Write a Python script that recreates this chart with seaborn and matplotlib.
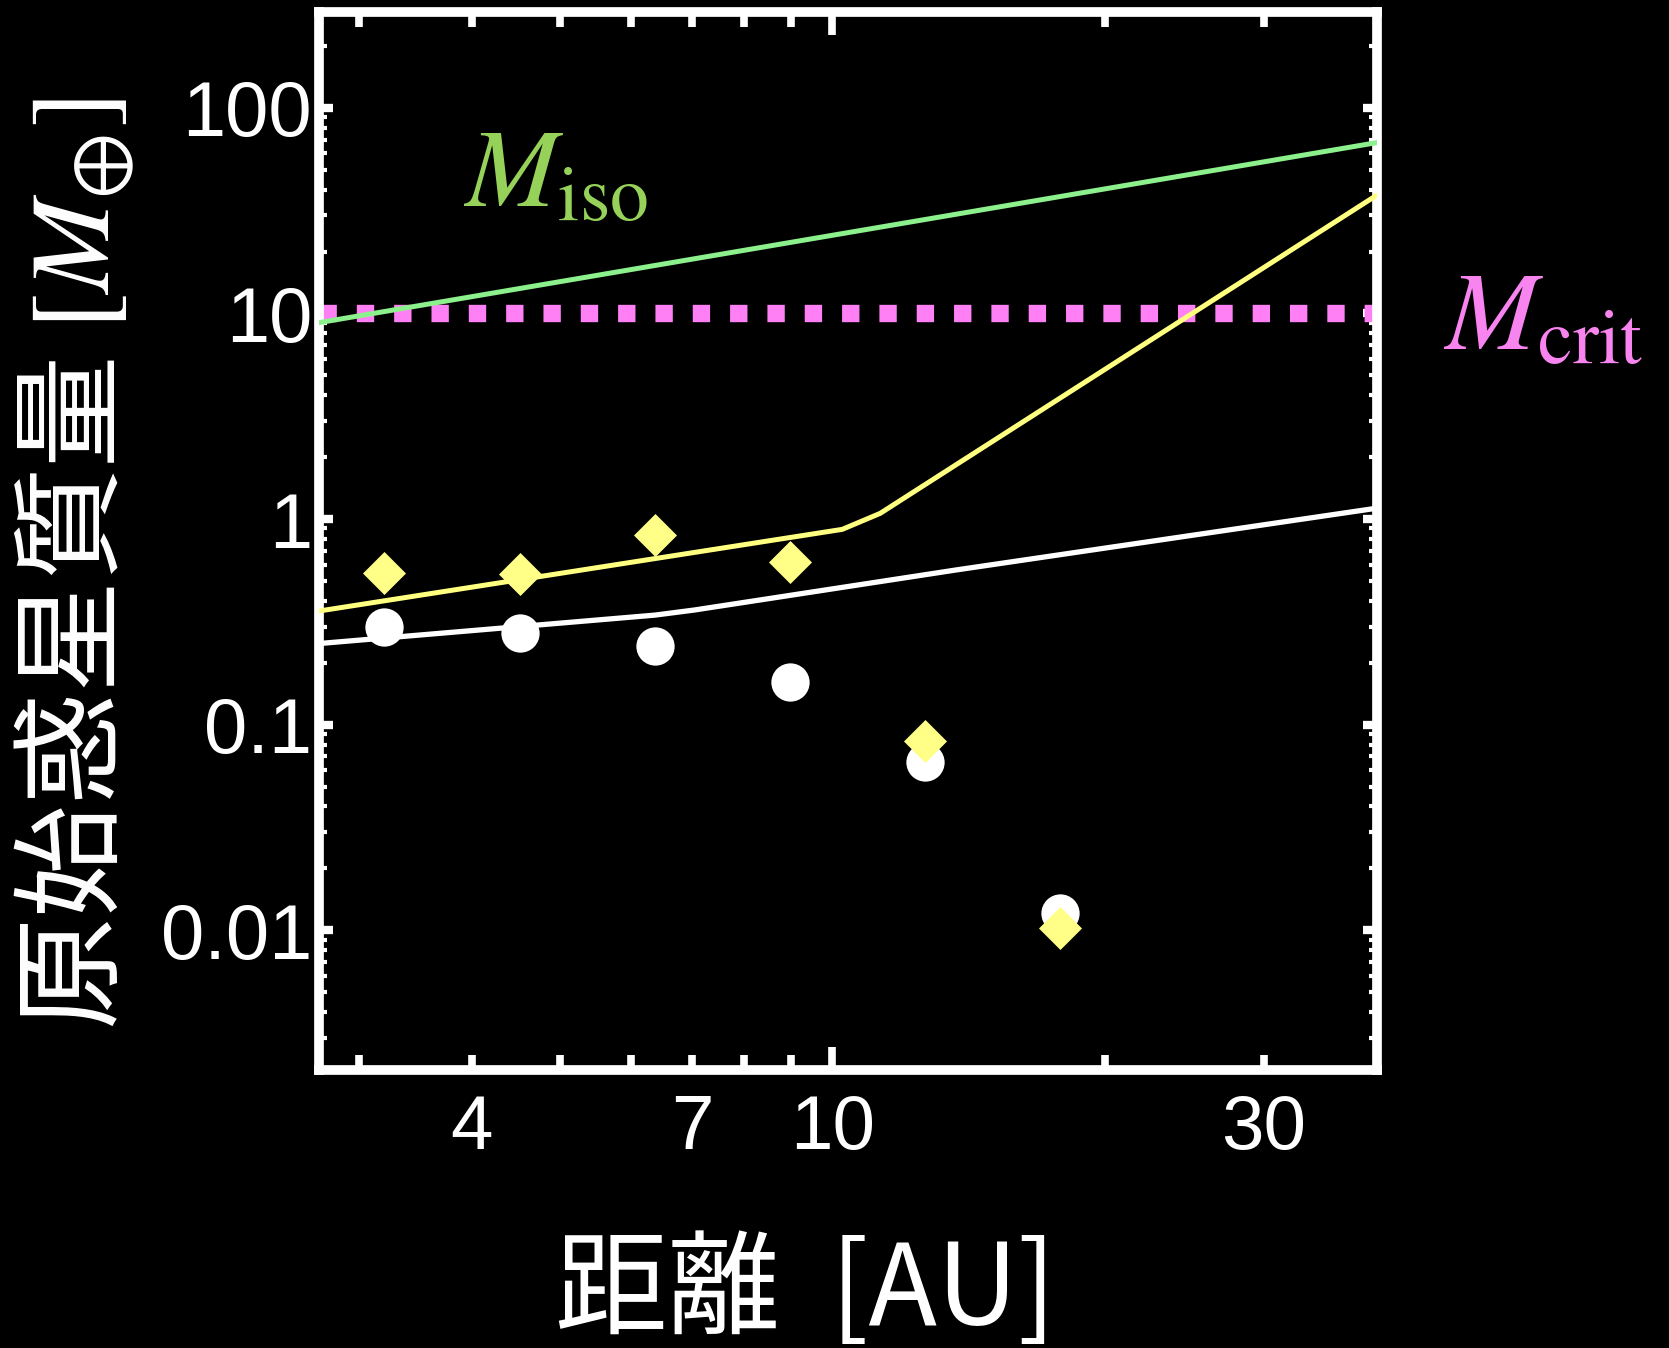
import numpy as np
import pandas as pd
import matplotlib
matplotlib.use("Agg")
import matplotlib.pyplot as plt
import seaborn as sns
from matplotlib.ticker import FixedLocator, FixedFormatter, NullFormatter

# ---------------- data ----------------
dist_pts = [3.20, 4.52, 6.37, 8.98, 12.66, 17.84]
mass_white_pts = [0.297, 0.280, 0.241, 0.162, 0.0659, 0.0121]
mass_yellow_pts = [0.544, 0.540, 0.836, 0.620, 0.0834, 0.0103]

white_line_x = [2.71, 6.37, 7.04, 13.69, 40.0]
white_line_y = [0.248, 0.341, 0.361, 0.565, 1.13]
yellow_line_x = [2.71, 10.26, 11.3, 40.0]
yellow_line_y = [0.357, 0.891, 1.066, 37.7]
iso_line_x = [2.71, 40.0]
iso_line_y = [9.02, 67.8]
m_crit = 10.0

x_major_ticks = [10]
x_major_labels = ["10"]
x_minor_ticks = [3, 4, 5, 6, 7, 8, 9, 20, 30, 40]
x_minor_labels = ["", "4", "", "", "7", "", "", "", "30", ""]
y_ticks = [0.01, 0.1, 1, 10, 100]
y_ticklabels = ["0.01", "0.1", "1", "10", "100"]

xlabel = "距離  [AU]"
ylabel = "原始惑星質量 $[M_{\\oplus}]$"
iso_text = "$M_{\\rm iso}$"
crit_text = "$M_{\\rm crit}$"

# ---------------- style ----------------
sns.set_theme(style="dark")
plt.rcParams["font.family"] = ["Liberation Sans", "Noto Sans CJK JP", "DejaVu Sans"]
plt.rcParams["mathtext.fontset"] = "stix"
plt.rcParams["axes.facecolor"] = "black"
plt.rcParams["figure.facecolor"] = "black"

fig = plt.figure(figsize=(16.69, 13.48), dpi=100)
ax = fig.add_axes([0.1911, 0.2062, 0.634, 0.785])
ax.set_facecolor("black")
ax.set_xscale("log")
ax.set_yscale("log")

# reference lines
ax.axhline(m_crit, color="#ff80f4", linewidth=12.5, linestyle=(0, (1, 1.15)),
           dash_capstyle="butt", zorder=2)
sns.lineplot(x=iso_line_x, y=iso_line_y, ax=ax, color="#8cf08c", linewidth=3.6,
             estimator=None, sort=False, zorder=3)
sns.lineplot(x=yellow_line_x, y=yellow_line_y, ax=ax, color="#ffff80", linewidth=3.6,
             estimator=None, sort=False, zorder=3)
sns.lineplot(x=white_line_x, y=white_line_y, ax=ax, color="white", linewidth=3.8,
             estimator=None, sort=False, zorder=3)

sns.scatterplot(x=dist_pts, y=mass_white_pts, ax=ax, marker="o", s=760,
                color="white", linewidth=0, zorder=4)
sns.scatterplot(x=dist_pts, y=mass_yellow_pts, ax=ax, marker="D", s=480,
                color="#ffff88", linewidth=0, zorder=5)

ax.set_xlim(2.71, 40.0)
ax.set_ylim(10 ** -2.68, 10 ** 2.467)

# ticks
ax.xaxis.set_major_locator(FixedLocator(x_major_ticks))
ax.xaxis.set_major_formatter(FixedFormatter(x_major_labels))
ax.xaxis.set_minor_locator(FixedLocator(x_minor_ticks))
ax.xaxis.set_minor_formatter(FixedFormatter(x_minor_labels))
ax.yaxis.set_major_locator(FixedLocator(y_ticks))
ax.yaxis.set_major_formatter(FixedFormatter(y_ticklabels))
ax.yaxis.set_minor_locator(matplotlib.ticker.LogLocator(base=10, subs=np.arange(2, 10)))
ax.yaxis.set_minor_formatter(NullFormatter())

ax.tick_params(axis="x", which="both", direction="in", top=True, bottom=True,
               colors="white", labelsize=55, pad=17)
ax.tick_params(axis="x", which="major", length=16.5, width=5.5)
ax.tick_params(axis="x", which="minor", length=10.8, width=5.5)
ax.tick_params(axis="y", which="both", direction="in", left=True, right=True,
               colors="white", labelsize=56, pad=5)
ax.tick_params(axis="y", which="major", length=10, width=6)
ax.tick_params(axis="y", which="minor", length=5.8, width=3)
for lab in ax.get_xticklabels(which="both") + ax.get_yticklabels():
    lab.set_color("white")

for sp in ax.spines.values():
    sp.set_visible(True)
    sp.set_color("white")
    sp.set_linewidth(7)

ax.grid(False)

# labels
ax.set_xlabel(xlabel, fontsize=81, color="white",
              family=["Noto Sans CJK JP", "DejaVu Sans"], va="center")
ax.xaxis.set_label_coords(0.46, -0.21)
ax.set_ylabel(ylabel, fontsize=81, color="white",
              family=["Noto Sans CJK JP", "DejaVu Sans"], va="center")
ax.yaxis.set_label_coords(-0.231, 0.478)

# annotations
ax.text(3.91, 33, iso_text, fontsize=80, color="#96d25a", ha="left", va="baseline")
ax.text(47.3, 6.6, crit_text, fontsize=80, color="#f884f0", ha="left", va="baseline",
        clip_on=False)

fig.savefig("out.png", dpi=100, facecolor="black")
